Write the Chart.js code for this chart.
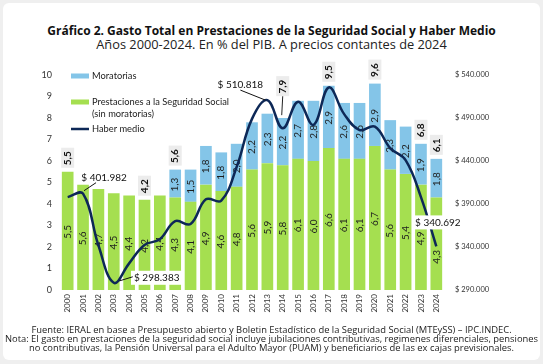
<!DOCTYPE html>
<html lang="es">
<head>
<meta charset="utf-8">
<script src="https://cdn.jsdelivr.net/npm/chart.js@4.4.1/dist/chart.umd.min.js"></script>
<style>
html, body { margin: 0; padding: 0; background: #efefef; width: 543px; height: 364px; overflow: hidden; }
#tarjeta { position: absolute; left: 3px; top: 3px; width: 537px; height: 357px; background: #fff; border-radius: 6px; }
#grafico { position: absolute; left: 0; top: 0; }
.texto { position: absolute; left: 0; width: 543px; text-align: center; font-family: 'Open Sans'; color: #111; white-space: nowrap; }
</style>
</head>
<body>
<div id="tarjeta"></div>
<div class="texto" style="top:23px;font-size:12px;line-height:16px;font-weight:700">Gráfico 2. Gasto Total en Prestaciones de la Seguridad Social y Haber Medio</div>
<div class="texto" style="top:36px;font-size:12.8px;line-height:16px;color:#222">Años 2000-2024. En % del PIB. A precios contantes de 2024</div>
<canvas id="grafico" width="543" height="364"></canvas>
<div class="texto" style="top:325px;font-size:9.4px;line-height:9px;color:#222">Fuente: IERAL en base a Presupuesto abierto y Boletin Estadístico de la Seguridad Social (MTEySS) – IPC.INDEC.<br>Nota: El gasto en prestaciones de la seguridad social incluye jubilaciones contributivas, regimenes diferenciales, pensiones<br>no contributivas, la Pensión Universal para el Adulto Mayor (PUAM) y beneficiarios de las ex cajas previsionales.</div>
<script>
// datos
const anios = ['2000','2001','2002','2003','2004','2005','2006','2007','2008','2009','2010','2011','2012',
  '2013','2014','2015','2016','2017','2018','2019','2020','2021','2022','2023','2024']
const prestaciones = [5.5,4.9,4.7,4.5,4.4,4.2,4.4,4.3,4.1,4.9,4.6,4.8,5.6,5.9,5.8,6.1,6.0,6.6,6.1,6.1,6.7,5.6,5.4,4.9,4.3]
const prestacionesTexto = ['5,5','5,6','4,7','4,5','4,4','4,2','4,4','4,3','4,1','4,9','4,6','4,8','5,6','5,9','5,8',
  '6,1','6,0','6,6','6,1','6,1','6,7','5,6','5,4','4,9','4,3']
const moratorias = [0,0,0,0,0,0,0,1.3,1.5,1.8,1.8,2.0,2.2,2.3,2.2,2.7,2.8,2.9,2.6,2.6,2.9,2.3,2.2,1.9,1.8]
const haberMedio = [398000,401982,342000,298383,321000,342300,349000,370000,366700,395400,394000,433000,489000,
  510818,478000,509000,482000,525500,494500,476000,480000,455000,441000,398000,340692]
const aniosTotal = ['2000','2005','2007','2014','2017','2020','2023','2024']
const totales = [5.5,4.2,5.6,7.9,9.5,9.6,6.8,6.1]
const aniosHaber = ['2001','2003','2013','2024']

const verde = '#a5df50'
const celeste = '#84c5e8'
const azul = '#0d2857'

const coma = v => v.toFixed(1).replace('.', ',')
const miles = v => '$ ' + String(Math.round(v)).replace(/\B(?=(\d{3})+(?!\d))/g, '.')

function textoVertical(ctx, txt, x, y) {
    ctx.save()
    ctx.translate(x, y)
    ctx.rotate(-Math.PI / 2)
    ctx.textAlign = 'center'
    ctx.textBaseline = 'middle'
    ctx.fillText(txt, 0, 0)
    ctx.restore()
}

function linea(ctx, x1, y1, x2, y2) {
    ctx.beginPath()
    ctx.moveTo(x1, y1)
    ctx.lineTo(x2, y2)
    ctx.stroke()
}

const etiquetas = {
    id: 'etiquetas',
    beforeDatasetDraw(chart, args) {
        // valores dentro de las barras, debajo de la linea
        if (chart.data.datasets[args.index].type !== 'line') return
        const ctx = chart.ctx
        ctx.font = '10px Lato'
        ctx.fillStyle = '#1e1e1e'
        chart.getDatasetMeta(0).data.forEach((b, i) => {
            let yy = (b.y + b.base) / 2 + 1
            if (i === anios.length - 1) yy += 12
            textoVertical(ctx, prestacionesTexto[i], b.x, yy)
        })
        chart.getDatasetMeta(1).data.forEach((b, i) => {
            if (!moratorias[i]) return
            textoVertical(ctx, coma(moratorias[i]), b.x, (b.y + b.base) / 2 + 1)
        })
    },
    afterDatasetsDraw(chart) {
        const ctx = chart.ctx
        const x = chart.scales.x, y = chart.scales.y, y1 = chart.scales.y1
        const area = chart.chartArea

        // totales
        ctx.font = 'bold 10px Lato'
        aniosTotal.forEach((a, k) => {
            const px = x.getPixelForValue(anios.indexOf(a))
            let py = y.getPixelForValue(totales[k]) - 14
            if (a === '2014') {
                py -= 20
                ctx.strokeStyle = '#222'
                ctx.lineWidth = 1
                linea(ctx, px, py + 10, px - 1, py + 29)
            }
            ctx.fillStyle = '#ececec'
            ctx.fillRect(px - 6.5, py - 10, 13, 20)
            ctx.fillStyle = '#111'
            textoVertical(ctx, coma(totales[k]), px, py + 0.5)
        })

        // haber medio
        const pos = {
            '2001': [21, -16, 1, -3, 13, -11, false],
            '2003': [43, -5, 6, -2, 19, -6, false],
            '2013': [-27, -15, -2, 0, -27, -10, false],
            '2024': [1.5, -24, 0, 0, 0, 0, true]
        }
        ctx.font = '10px Lato'
        aniosHaber.forEach(a => {
            const i = anios.indexOf(a)
            const px = x.getPixelForValue(i)
            const py = y1.getPixelForValue(haberMedio[i])
            const p = pos[a]
            const txt = miles(haberMedio[i])
            const w = ctx.measureText(txt).width
            if (p[6] || a === '2003') {
                ctx.fillStyle = '#fff'
                ctx.fillRect(px + p[0] - w / 2 - 3, py + p[1] - 7, w + 6, 14)
            }
            if (p[4] || p[5]) {
                ctx.strokeStyle = '#111'
                ctx.lineWidth = 1
                linea(ctx, px + p[2], py + p[3], px + p[4], py + p[5])
            }
            ctx.fillStyle = '#111'
            ctx.textAlign = 'center'
            ctx.textBaseline = 'middle'
            ctx.fillText(txt, px + p[0], py + p[1])
        })

        // leyenda
        const lx = area.left + 11, ly = area.top
        const ds = chart.data.datasets
        ctx.textAlign = 'left'
        ctx.textBaseline = 'middle'
        ctx.font = '9.3px Lato'
        const filas = [[ds[1], ly + 1], [ds[0], ly + 27], [ds[2], ly + 54]]
        filas.forEach(([d, yy]) => {
            if (d.type === 'line') {
                ctx.strokeStyle = d.borderColor
                ctx.lineWidth = 2.5
                linea(ctx, lx, yy, lx + 18, yy)
            } else {
                ctx.fillStyle = d.backgroundColor
                ctx.fillRect(lx, yy - 2.5, 18, 5)
            }
            ctx.fillStyle = '#222'
            d.label.split('\n').forEach((t, n) => ctx.fillText(t, lx + 21, yy + n * 11.5))
        })
    }
}

const ctx = document.getElementById('grafico')
const grafico = new Chart(ctx, {
    data: {
        labels: anios,
        datasets: [{
            type: 'bar',
            label: 'Prestaciones a la Seguridad Social\n(sin moratorias)',
            data: prestaciones,
            backgroundColor: verde,
            order: 1
        }, {
            type: 'bar',
            label: 'Moratorias',
            data: moratorias,
            backgroundColor: celeste,
            order: 1
        }, {
            type: 'line',
            label: 'Haber medio',
            data: haberMedio,
            yAxisID: 'y1',
            borderColor: azul,
            borderWidth: 2.5,
            pointRadius: 0,
            tension: 0.4,
            order: 0
        }]
    },
    options: {
        responsive: false,
        animation: false,
        devicePixelRatio: 1,
        layout: { padding: { top: 75, left: 0, right: 0, bottom: 0 } },
        datasets: { bar: { categoryPercentage: 1, barPercentage: 0.76 } },
        plugins: { legend: { display: false }, tooltip: { enabled: false } },
        scales: {
            x: {
                stacked: true,
                grid: { display: false, drawTicks: false },
                border: { display: false },
                ticks: { minRotation: 90, maxRotation: 90, padding: 4, color: '#333', font: { size: 8, family: 'Lato' } },
                afterFit: s => { s.height = 74 }
            },
            y: {
                stacked: true,
                min: 0, max: 10,
                grid: { display: false, drawTicks: false },
                border: { display: false },
                ticks: { stepSize: 1, padding: 8, color: '#333', font: { size: 9, family: 'Lato' } },
                afterFit: s => { s.width = 60 }
            },
            y1: {
                position: 'right',
                min: 290000, max: 540000,
                grid: { display: false, drawTicks: false },
                border: { display: false },
                ticks: { stepSize: 50000, padding: 11, color: '#333', font: { size: 7.5, family: 'Lato' }, callback: v => miles(v) },
                afterFit: s => { s.width = 99 }
            }
        }
    },
    plugins: [etiquetas]
})
</script>
</body>
</html>
